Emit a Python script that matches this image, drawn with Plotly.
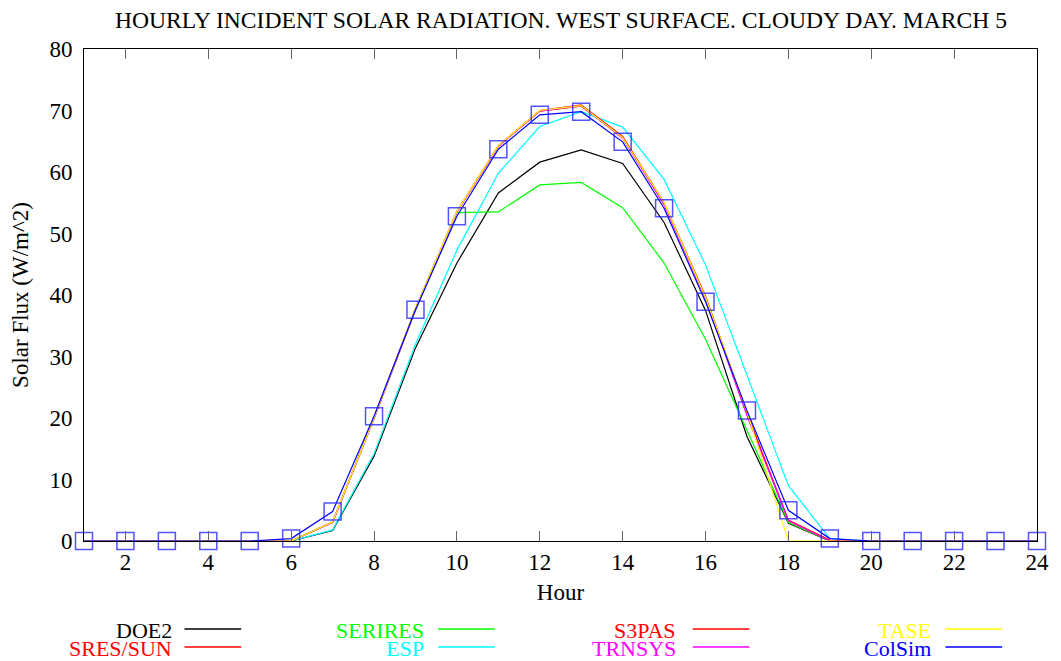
import plotly.graph_objects as go

hours = list(range(1, 25))

doe2 =     [0, 0, 0, 0, 0, 0, 1.7, 13.8, 31.4, 45.2, 56.6, 61.6, 63.6, 61.4, 51.8, 37.5, 17.0, 2.9, 0, 0, 0, 0, 0, 0]
sres_sun = [0, 0, 0, 0, 0, 0, 3.1, 20.0, 37.7, 53.5, 64.2, 69.9, 70.7, 65.6, 54.8, 39.6, 20.6, 3.3, 0.1, 0, 0, 0, 0, 0]
serires =  [0, 0, 0, 0, 0, 0, 3.0, 20.0, 37.5, 53.4, 53.5, 57.9, 58.3, 54.2, 45.2, 32.8, 18.0, 3.0, 0, 0, 0, 0, 0, 0]
esp =      [0, 0, 0, 0, 0, 0, 1.8, 14.2, 32.0, 47.3, 59.8, 67.4, 69.8, 67.3, 58.8, 44.9, 27.0, 9.0, 0.4, 0, 0, 0, 0, 0]
s3pas =    [0, 0, 0, 0, 0, 0, 3.1, 20.0, 37.8, 53.6, 64.3, 70.0, 70.9, 65.8, 55.0, 39.8, 20.8, 3.4, 0.1, 0, 0, 0, 0, 0]
trnsys =   [0, 0, 0, 0, 0, 0, 3.0, 19.9, 37.6, 53.5, 64.2, 69.9, 70.8, 65.5, 54.7, 39.4, 20.4, 3.3, 0, 0, 0, 0, 0, 0]
tase =     [0, 0, 0, 0, 0, 0, 3.1, 20.0, 37.8, 53.6, 64.3, 70.0, 70.8, 65.6, 55.0, 39.6, 21.0, 0, 0, 0, 0, 0, 0, 0]
colsim =   [0, 0, 0, 0, 0, 0.4, 4.8, 20.3, 37.6, 52.8, 63.7, 69.3, 69.8, 64.9, 54.1, 38.9, 21.2, 5.0, 0.4, 0, 0, 0, 0, 0]

series_names = ["DOE2", "SRES/SUN", "SERIRES", "ESP", "S3PAS", "TRNSYS", "TASE", "ColSim"]
series_vals = [doe2, sres_sun, serires, esp, s3pas, trnsys, tase, colsim]
series_colors = ["#000000", "#ff0000", "#00ff00", "#00ffff", "#ff0000", "#ff00ff", "#ffff00", "#0000ff"]

x_ticks = list(range(2, 25, 2))
y_ticks = list(range(0, 81, 10))

FONT = "Liberation Serif, Times New Roman, serif"

fig = go.Figure()
for name, vals, col in zip(series_names, series_vals, series_colors):
    if name == "ColSim":
        fig.add_trace(go.Scatter(
            x=hours, y=vals, mode="lines+markers", name=name,
            line=dict(color=col, width=1.2),
            marker=dict(symbol="square-open", size=17, color="rgba(40,40,255,0.8)",
                        line=dict(width=1.5)),
            cliponaxis=False, showlegend=False))
    else:
        fig.add_trace(go.Scatter(
            x=hours, y=vals, mode="lines", name=name,
            line=dict(color=col, width=1.2),
            cliponaxis=False, showlegend=False))

W, H = 1061, 661
L, R, T, B = 84, 1042, 49, 541

def px(xp):
    return (xp - L) / (R - L)

def py(yp):
    return (B - yp) / (B - T)

# legend layout: 4 columns x 2 rows (column-wise order)
text_right = [174, 428, 681, 937]
line_start = [185, 440, 696, 950]
line_len = 57
row_y = [630, 648]

annotations = []
shapes = []
for i, (name, col) in enumerate(zip(series_names, series_colors)):
    c, r = i // 2, i % 2
    annotations.append(dict(
        x=px(text_right[c]), y=py(row_y[r]), xref="paper", yref="paper",
        text=name, showarrow=False, xanchor="right", yanchor="middle",
        font=dict(family=FONT, size=22, color=col)))
    shapes.append(dict(
        type="line", xref="paper", yref="paper",
        x0=px(line_start[c]), x1=px(line_start[c] + line_len),
        y0=py(row_y[r] - 1), y1=py(row_y[r] - 1),
        line=dict(color=col, width=1.5)))

annotations.append(dict(
    x=px(563), y=py(20), xref="paper", yref="paper",
    text="HOURLY INCIDENT SOLAR RADIATION. WEST SURFACE. CLOUDY DAY. MARCH 5",
    showarrow=False, xanchor="center", yanchor="middle",
    font=dict(family=FONT, size=23.6, color="black")))

fig.update_layout(
    width=W, height=H,
    margin=dict(l=L, r=W - R, t=T, b=H - B, pad=0),
    paper_bgcolor="white", plot_bgcolor="white",
    font=dict(family=FONT, size=23, color="black"),
    annotations=annotations, shapes=shapes,
    showlegend=False,
)
fig.update_xaxes(
    range=[1, 24], tickvals=x_ticks, ticktext=[str(v) for v in x_ticks],
    ticks="inside", ticklen=10, tickcolor="#666666", tickwidth=1,
    showline=True, linecolor="black", linewidth=1, mirror="ticks",
    showgrid=False, zeroline=False,
    title=dict(text="Hour", font=dict(family=FONT, size=23), standoff=10),
    tickfont=dict(family=FONT, size=23),
)
fig.update_yaxes(
    range=[0, 80], tickvals=y_ticks, ticktext=[str(v) for v in y_ticks],
    ticks="", showline=True, linecolor="black", linewidth=1, mirror=True,
    showgrid=False, zeroline=False, ticklabelstandoff=6,
    title=dict(text="Solar Flux (W/m^2)", font=dict(family=FONT, size=23), standoff=14),
    tickfont=dict(family=FONT, size=23),
)

fig.write_html("out.html", config={"displayModeBar": False},
               post_script="document.body.style.margin='0';document.body.style.padding='0';")
